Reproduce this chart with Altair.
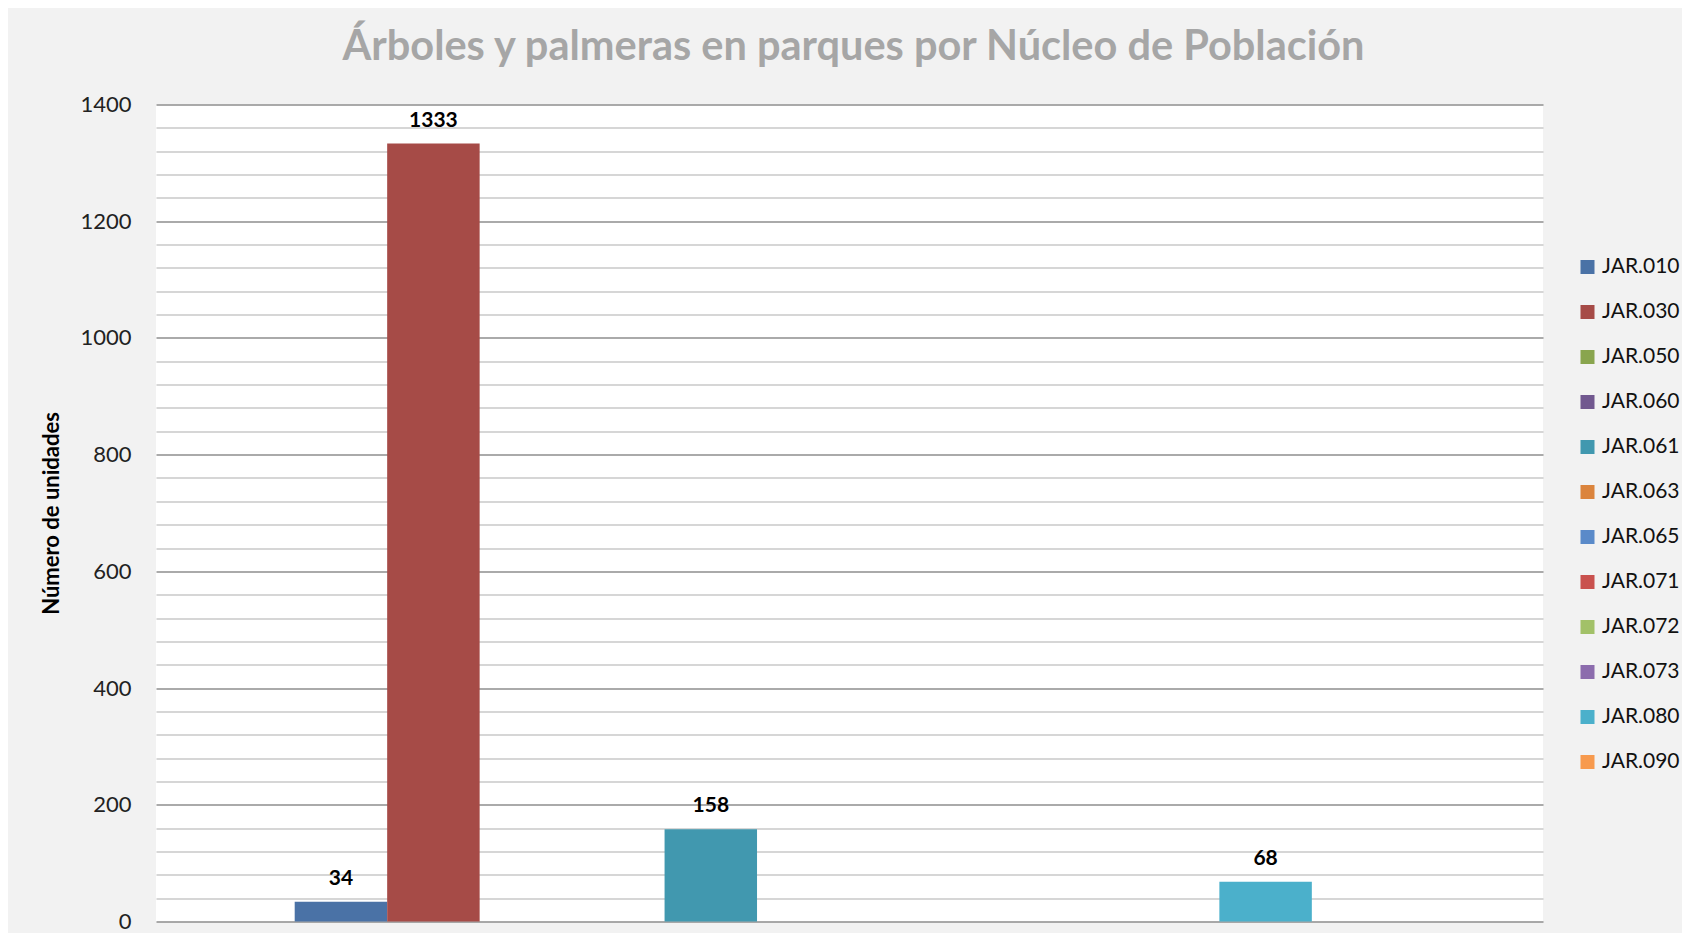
import altair as alt
import pandas as pd

series = ["JAR.010", "JAR.030", "JAR.050", "JAR.060", "JAR.061", "JAR.063",
          "JAR.065", "JAR.071", "JAR.072", "JAR.073", "JAR.080", "JAR.090"]
values = [34, 1333, 0, 0, 158, 0, 0, 0, 0, 0, 68, 0]
colors = ["#4A72A6", "#A64B47", "#89A54E", "#71588F", "#4198AF", "#DB843D",
          "#5A8AC9", "#C9514E", "#A2C168", "#8C6CAD", "#4BB0CB", "#F79A4E"]
y_ticks = list(range(0, 1401, 40))

df = pd.DataFrame({"serie": series, "valor": values, "grupo": ["Núcleo"] * len(series)})

FONT = "Lato"
PLOT_W = 1387

x_enc = alt.X("grupo:N", axis=None,
              scale=alt.Scale(paddingInner=0, paddingOuter=0.125))
xo_enc = alt.XOffset("serie:N", sort=series,
                     scale=alt.Scale(paddingInner=0, paddingOuter=0))
y_scale = alt.Scale(domain=[0, 1400], nice=False)
y_enc = alt.Y("valor:Q",
              scale=y_scale,
              axis=alt.Axis(values=y_ticks, tickCount=100, format="d", labelOverlap=False,
                            labelExpr="datum.value % 200 == 0 ? datum.label : ''",
                            title="Número de unidades",
                            titleFont=FONT, titleFontSize=22, titleFontWeight="bold",
                            titleColor="#000000", titleX=-105, titleBaseline="middle",
                            labelFont=FONT, labelFontSize=22, labelColor="#222222",
                            labelPadding=25, tickSize=0, ticks=False, domain=False,
                            gridColor={"condition": {"test": "datum.value % 200 === 0", "value": "#8e8e8e"},
                                       "value": "#c8c8c8"},
                            gridWidth=1.3))

bars = alt.Chart(df).mark_bar().encode(
    x=x_enc,
    xOffset=xo_enc,
    y=y_enc,
    color=alt.Color("serie:N", sort=series,
                    scale=alt.Scale(domain=series, range=colors),
                    legend=alt.Legend(title=None, orient="none", legendX=1421, legendY=152,
                                      symbolType="square", symbolSize=196, symbolStrokeWidth=0,
                                      labelFont=FONT, labelFontSize=21, labelColor="#111111",
                                      labelOffset=4, rowPadding=23, padding=0)),
)

labels = alt.Chart(df).transform_filter("datum.valor > 0").mark_text(
    font=FONT, fontSize=21, fontWeight="bold", color="#000000",
    baseline="alphabetic", dy=-17,
).encode(
    x=x_enc,
    xOffset=xo_enc,
    y=alt.Y("valor:Q", scale=y_scale),
    text="valor:Q",
)

chart = alt.layer(bars, labels).properties(
    width=PLOT_W,
    height=817,
    autosize=alt.AutoSizeParams(type="none"),
    padding={"left": 148, "top": 96.5, "right": 139, "bottom": 11.5},
    background="#f2f2f2",
    title=alt.TitleParams("Árboles y palmeras en parques por Núcleo de Población",
                          font=FONT, fontSize=41.5, fontWeight="bold", color="#a6a6a6",
                          anchor="middle", frame="group", baseline="alphabetic",
                          offset=1.5, dy=9, dx=4),
).configure_view(fill="white", stroke=None)

chart.save("out.html", embed_options={"renderer": "svg", "actions": False})
